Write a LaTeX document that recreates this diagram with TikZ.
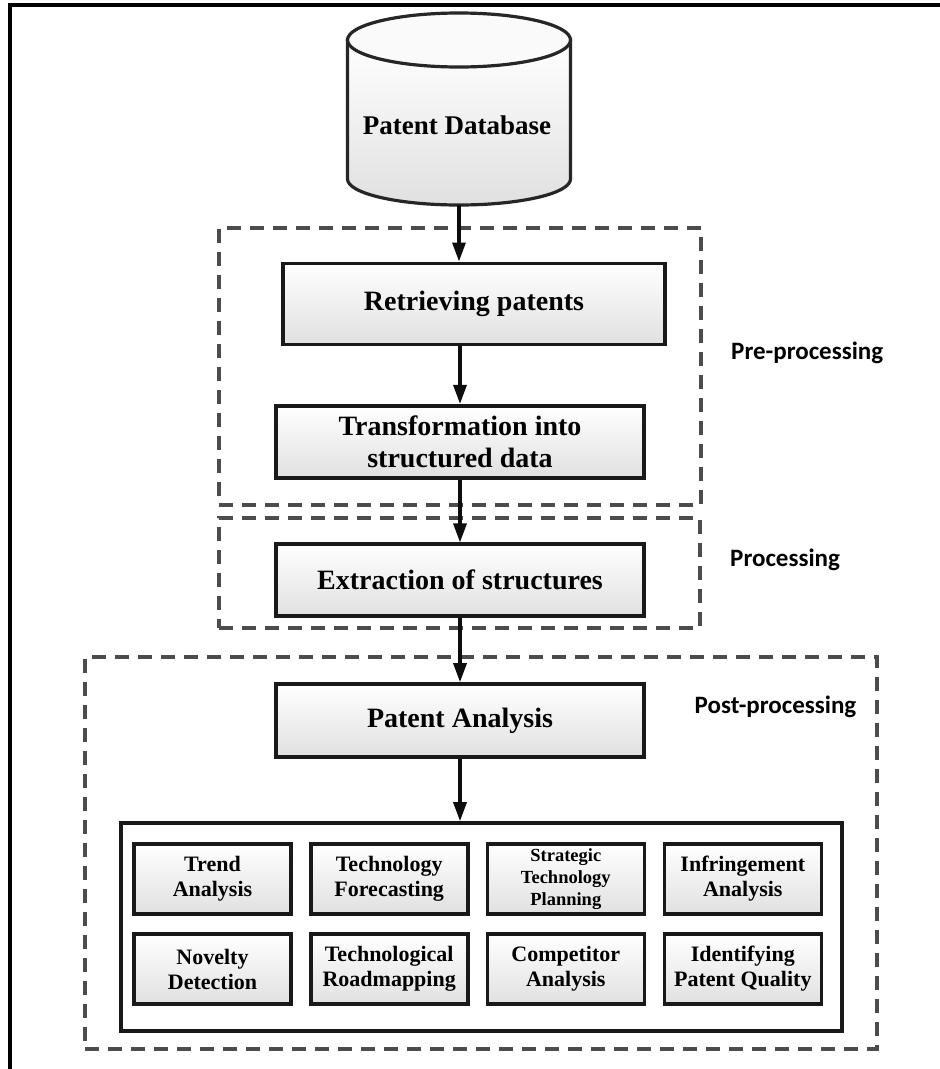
\documentclass[tikz,border=0pt]{standalone}
\usepackage{fontspec}
\setmainfont{Liberation Serif}
\newfontfamily\labelfont{Carlito}
\usetikzlibrary{arrows.meta}

\begin{document}
\begin{tikzpicture}[x=1pt,y=-1pt,
  boxstyle/.style={draw=black!90, line width=3.6pt, top color=white, bottom color=black!12,
    inner sep=0pt, align=center, font=\fontsize{28}{32}\selectfont\bfseries},
  itemstyle/.style={boxstyle, minimum width=157pt, minimum height=70pt,
    font=\fontsize{22}{25}\selectfont\bfseries},
  stagebox/.style={draw=black!70, line width=3.2pt, dash pattern=on 14pt off 9pt, inner sep=0pt},
  stagelabel/.style={font=\labelfont\fontsize{25}{30}\selectfont\bfseries, anchor=west, inner sep=0pt},
  arr/.style={line width=3.2pt, draw=black!95, -{Triangle[length=19pt,width=13pt]}}
]
% page area
\fill[white] (0,0) rectangle (940,1069);
\useasboundingbox (0,0) rectangle (940,1069);

% frame lines on the top and left
\draw[line width=3.2pt] (10,1069) -- (10,5) -- (940,5);

% stage groups
\node[stagebox, minimum width=482pt, minimum height=277pt] (pre) at (460,366.5) {};
\node[stagebox, minimum width=481pt, minimum height=110pt] (proc) at (459.5,573) {};
\node[stagebox, minimum width=792pt, minimum height=392pt] (post) at (481,853) {};

\node[stagelabel] (prelbl) at (731,353) {Pre-processing};
\node[stagelabel] (proclbl) at (730,560) {Processing};
\node[stagelabel] (postlbl) at (694.5,707) {Post-processing};

% database cylinder
\node[minimum width=223pt, minimum height=192pt, inner sep=0pt] (db) at (459,109) {};
\path[draw=black!85, line width=3.2pt, top color=white, bottom color=black!12]
  (347.5,40) -- (347.5,179) arc[start angle=180, end angle=0, x radius=111.5, y radius=26]
  -- (570.5,40) -- cycle;
\draw[black!85, line width=3.2pt, fill=black!2] (459,40) ellipse[x radius=111.5, y radius=27];
\node[font=\fontsize{27}{30}\selectfont\bfseries, inner sep=0pt] (dbtext) at (457,125) {Patent Database};

% process steps
\node[boxstyle, minimum width=381.5pt, minimum height=81pt] (ret) at (474,303.8) {Retrieving patents};
\node[boxstyle, minimum width=368pt, minimum height=72pt] (tra) at (460,441.7) {Transformation into\\structured data};
\node[boxstyle, minimum width=368pt, minimum height=71.5pt] (ext) at (460,580) {Extraction of structures};
\node[boxstyle, minimum width=368pt, minimum height=73pt] (pa) at (460,720.5) {Patent Analysis};

% container of analysis types
\node[draw=black!90, line width=3.6pt, fill=white, minimum width=721pt, minimum height=208pt, inner sep=0pt] (cont) at (481.5,927) {};

\node[itemstyle] (t1) at (212.5,879) {Trend\\Analysis};
\node[itemstyle] (t2) at (389.2,879) {Technology\\Forecasting};
\node[itemstyle, font=\fontsize{18.5}{21.7}\selectfont\bfseries] (t3) at (565.8,879) {Strategic\\Technology\\Planning};
\node[itemstyle] (t4) at (742.8,879) {Infringement\\Analysis};
\node[itemstyle] (t5) at (212.5,969) {Novelty\\Detection};
\node[itemstyle] (t6) at (389.2,969) {Technological\\Roadmapping};
\node[itemstyle] (t7) at (565.8,969) {Competitor\\Analysis};
\node[itemstyle] (t8) at (742.8,969) {Identifying\\Patent Quality};

% flow arrows
\draw[arr] (db.south) -- (db.south |- ret.north);
\draw[arr] (ret.south -| tra.north) -- (tra.north);
\draw[arr] (tra.south) -- (ext.north);
\draw[arr] (ext.south) -- (pa.north);
\draw[arr] (pa.south) -- (pa.south |- cont.north);
\end{tikzpicture}
\end{document}
